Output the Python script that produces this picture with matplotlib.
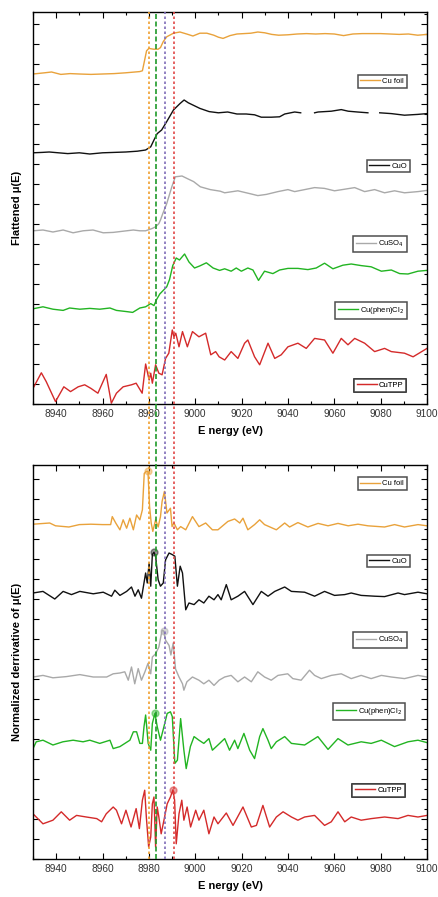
import numpy as np
import matplotlib.pyplot as plt
import matplotlib.transforms as mtransforms
from matplotlib.lines import Line2D
from matplotlib.ticker import MultipleLocator

plt.rcParams['font.family'] = ['Liberation Sans', 'DejaVu Sans']

# ---------------- data ----------------
labels = ['Cu foil', 'CuO', 'CuSO$_4$', 'Cu(phen)Cl$_2$', 'CuTPP']
colors = ['#e9a23b', '#111111', '#a9a9a9', '#22b422', '#d42a2a']

# edge positions marked by the vertical lines (eV)
edge_E = [8980.0, 8983.2, 8987.0, 8990.8]
edge_colors = ['#f0a030', '#1f9a2a', '#7f6cb8', '#e04848']
edge_styles = [(0, (1.5, 1.5)), (0, (3, 1.5)), (0, (1.5, 1.5)), (0, (1.5, 1.5))]

# flattened mu(E)
E_foil = [8930, 8935, 8938, 8942, 8946, 8950, 8955, 8960, 8965, 8970,
          8974, 8976, 8977.2, 8978, 8979, 8980, 8982, 8984, 8985, 8986.2,
          8987.7, 8990.6, 8993.4, 8996.3, 8999, 9002, 9005, 9008, 9010, 9012,
          9015, 9018, 9021, 9024, 9027, 9030, 9033, 9036, 9040, 9044,
          9048, 9052, 9056, 9060, 9064, 9068, 9072, 9076, 9080, 9084,
          9088, 9092, 9096, 9100]
mu_foil = [0.0, 0.03, 0.05, -0.01, 0.01, 0.0, -0.01, 0.0, 0.01, 0.03,
           0.05, 0.06, 0.08, 0.3, 0.58, 0.64, 0.62, 0.62, 0.66, 0.81,
           0.93, 1.02, 1.05, 1.0, 0.95, 1.02, 1.02, 0.97, 0.92, 0.89,
           0.96, 1.0, 1.01, 1.02, 1.05, 1.03, 0.99, 0.97, 0.98, 1.0,
           1.01, 1.0, 1.01, 1.0, 0.96, 1.0, 1.01, 1.01, 1.01, 1.0,
           0.99, 1.0, 0.97, 0.99]

E_cuo = [8930, 8934, 8937, 8941, 8945, 8950, 8954.5, 8960, 8965, 8970,
         8975, 8978.6, 8980.8, 8982.2, 8983.6, 8985.5, 8987.7, 8990.6, 8993.4, 8995.2,
         8997, 9002, 9006, 9010, 9014, 9018, 9022, 9025.6, 9028.5, 9032.8,
         9036.4, 9038.6, 9042.9, 9045.5, 9048, 9051.5, 9053, 9058.7, 9063, 9066,
         9070, 9074.5, 9077, 9079.6, 9084.6, 9090.3, 9096, 9100]
mu_cuo = [0.0, 0.01, 0.02, 0.0, -0.02, 0.0, -0.03, 0.0, 0.01, 0.02,
          0.04, 0.07, 0.15, 0.32, 0.48, 0.57, 0.78, 1.07, 1.23, 1.32,
          1.25, 1.11, 1.03, 1.0, 1.02, 0.97, 0.97, 0.95, 0.89, 0.89,
          0.9, 0.97, 1.02, 1.0, np.nan, 1.0, 1.02, 1.04, 1.08, 1.04,
          1.02, 1.0, np.nan, 1.0, 0.98, 0.94, 0.96, 0.98]

E_so4 = [8930, 8934.3, 8938.6, 8943, 8947.3, 8951.6, 8955.9, 8960.3, 8964.6, 8968.9,
         8973.3, 8976.1, 8978.6, 8981.5, 8982.9, 8984.3, 8985, 8986, 8987.7, 8989.9,
         8991.4, 8994.3, 8996.4, 8999.3, 9002.2, 9006.5, 9010.8, 9012.7, 9018.4, 9024.2,
         9027, 9030.7, 9035.7, 9040, 9042.9, 9047.2, 9051.5, 9055.8, 9060.1, 9064.5,
         9068.8, 9073.1, 9077.4, 9081.7, 9086, 9090.3, 9096.1, 9100]
mu_so4 = [0.0, 0.02, -0.03, 0.02, -0.05, 0.0, 0.02, -0.05, -0.04, -0.01,
          0.02, 0.0, 0.0, 0.06, 0.1, 0.18, 0.27, 0.43, 0.68, 1.1,
          1.35, 1.37, 1.31, 1.23, 1.1, 1.03, 0.99, 0.95, 1.0, 0.92,
          0.88, 0.91, 0.98, 1.03, 0.98, 1.03, 1.08, 1.06, 1.0, 1.04,
          1.08, 0.98, 1.03, 0.95, 1.0, 0.95, 0.98, 1.01]

E_phen = [8930, 8934.3, 8938.6, 8943, 8945.8, 8950.2, 8954.5, 8958.8, 8963.2, 8966,
          8970.4, 8973, 8976.1, 8978.6, 8980.8, 8982.2, 8983.3, 8984.7, 8987.7, 8988.9,
          8990.3, 8991.8, 8993.2, 8995.4, 8997.3, 8999.7, 9001.9, 9004.8, 9007.7, 9010.5,
          9012.7, 9015.5, 9017.7, 9019.9, 9022.7, 9024.9, 9027.3, 9029.9, 9033.5, 9036.4,
          9040, 9044.3, 9048.6, 9052.2, 9055.8, 9059.4, 9063.7, 9067.3, 9071.6, 9075.9,
          9080.3, 9084.6, 9088.2, 9091.8, 9096.1, 9100]
mu_phen = [0.0, 0.05, -0.01, -0.04, 0.02, -0.01, 0.01, -0.01, 0.02, -0.04,
           -0.07, -0.09, 0.02, 0.05, 0.13, 0.08, 0.23, 0.37, 0.55, 0.73,
           1.08, 1.27, 1.22, 1.37, 1.17, 1.02, 1.07, 1.15, 1.02, 0.96,
           1.0, 0.94, 1.02, 0.94, 1.02, 0.97, 0.71, 0.94, 0.88, 0.97,
           1.01, 1.01, 0.98, 1.02, 1.14, 1.0, 1.09, 1.12, 1.08, 1.05,
           0.94, 0.97, 0.88, 0.87, 0.94, 0.96]

E_tpp = [8930, 8933.6, 8935.7, 8939.7, 8943.3, 8946.2, 8949.5, 8952.3, 8955, 8958,
         8961.6, 8963.8, 8966, 8968.9, 8972.5, 8974.5, 8977.1, 8978.6, 8980.1, 8980.8,
         8981.5, 8982.9, 8984.3, 8985.7, 8987.2, 8988.6, 8990.1, 8990.8, 8991.6, 8993,
         8994.5, 8996.6, 8998.8, 9001.6, 9004.5, 9006.7, 9008.8, 9010.3, 9012.7, 9015.5,
         9018.4, 9021.3, 9022.7, 9025.6, 9027.8, 9031.4, 9034.3, 9037.1, 9040, 9044.3,
         9047.9, 9051.5, 9055.8, 9059.4, 9063, 9065.9, 9068.8, 9073.1, 9077.4, 9081.7,
         9084.6, 9090.3, 9094, 9100]
mu_tpp = [-0.01, 0.38, 0.16, -0.34, 0.03, -0.09, 0.03, 0.08, -0.01, -0.13,
          0.34, -0.38, -0.13, 0.03, 0.08, 0.12, -0.13, 0.6, 0.2, 0.37,
          0.12, 0.58, 0.37, 0.33, 0.74, 0.87, 1.45, 1.28, 1.37, 1.03,
          1.41, 1.03, 1.41, 1.28, 1.37, 0.83, 0.91, 0.78, 0.7, 0.91,
          0.74, 1.12, 1.2, 0.78, 0.58, 1.12, 0.74, 0.83, 1.03, 1.12,
          0.99, 1.24, 1.2, 0.87, 1.24, 1.08, 1.24, 1.12, 0.91, 0.99,
          0.91, 0.87, 0.78, 0.99]

# normalized derivative of mu(E)
Ed_foil = [8930, 8937.2, 8939.7, 8945.5, 8950, 8955, 8960, 8963.5, 8964.2, 8965.7,
           8967.5, 8968.9, 8970.4, 8971.8, 8973.3, 8974.7, 8976.1, 8977.2, 8978, 8978.9,
           8979.6, 8980.3, 8981, 8981.7, 8982.9, 8984, 8985, 8985.7, 8986.7, 8987.8,
           8989.3, 8990, 8990.8, 8992.3, 8993.7, 8995.9, 8998.8, 9001.6, 9004.5, 9007.4,
           9009.8, 9014.1, 9017, 9019.2, 9020.6, 9022.7, 9025.6, 9027.8, 9029.9, 9035,
           9038.6, 9040.7, 9044.3, 9048.6, 9053, 9057.3, 9061.6, 9066, 9070.2, 9074.5,
           9081.7, 9086, 9090.3, 9096.1, 9100]
d_foil = [0.0, 0.03, -0.04, -0.07, -0.01, 0.0, -0.01, -0.01, 0.19, 0.03,
          -0.14, 0.11, -0.1, 0.15, -0.14, 0.23, 0.11, 0.36, 1.27, 1.32,
          1.32, 0.44, 0.03, -0.18, 0.11, -0.07, 0.19, 0.57, 0.82, 0.28,
          0.4, -0.06, 0.03, -0.14, -0.06, -0.14, 0.19, -0.06, 0.03, -0.14,
          -0.14, 0.07, 0.13, 0.03, 0.15, -0.14, -0.01, 0.11, -0.01, -0.14,
          0.03, -0.07, 0.04, -0.07, 0.02, -0.04, 0.02, -0.04, 0.0, -0.04,
          -0.07, -0.01, -0.07, -0.01, -0.04]

Ed_cuo = [8930, 8934.3, 8939.4, 8943, 8946.6, 8950.2, 8956, 8960.3, 8963.9, 8965.3,
          8967.5, 8970.4, 8972.5, 8974, 8975.4, 8976.8, 8978.6, 8979.3, 8980.1, 8980.8,
          8981.5, 8982.2, 8982.9, 8984, 8985, 8986.2, 8987.2, 8988.7, 8990.1, 8991.2,
          8992.3, 8993.5, 8994.5, 8995.9, 8997.3, 8999.5, 9001.6, 9003.7, 9005.9, 9008.1,
          9009.8, 9011.2, 9013.4, 9015.5, 9018.4, 9021.3, 9024.9, 9028.5, 9031.4, 9034.3,
          9038.6, 9041.5, 9047.2, 9051.5, 9055.8, 9060.1, 9064.5, 9067.3, 9071.6, 9077.4,
          9081.7, 9087.5, 9090.3, 9096.1, 9100]
d_cuo = [0.0, 0.04, -0.15, 0.04, -0.04, 0.04, -0.02, 0.02, -0.08, 0.07,
         -0.06, 0.04, 0.15, -0.08, 0.08, -0.13, 0.5, 0.25, 0.75, 0.17,
         0.96, 1.02, 0.92, 0.33, 0.17, 0.25, 0.83, 1.0, 0.96, 0.92,
         0.17, 0.67, 0.5, -0.42, -0.25, -0.29, -0.17, -0.25, -0.08, -0.17,
         -0.04, -0.17, 0.21, -0.17, -0.08, 0.04, -0.29, 0.04, -0.08, 0.04,
         0.15, 0.04, 0.02, -0.08, 0.04, -0.06, -0.04, 0.0, -0.06, -0.08,
         -0.09, 0.0, -0.04, 0.02, -0.02]

Ed_so4 = [8930, 8934.3, 8938.6, 8944.4, 8950.2, 8956, 8961.8, 8964.6, 8967.5, 8969.6,
          8971.1, 8972.5, 8973.9, 8975.4, 8976.8, 8978.3, 8979.6, 8980.8, 8981.5, 8982.9,
          8984.3, 8985.7, 8986.4, 8987.2, 8988.7, 8989.5, 8990.5, 8991.5, 8993, 8994.5,
          8995.1, 8996.4, 8998.8, 9001.6, 9003.7, 9005.9, 9008.1, 9010.3, 9012.7, 9015.5,
          9018.4, 9021.3, 9024.2, 9027, 9029.9, 9032.8, 9035.7, 9039.9, 9042.1, 9045.7,
          9049.3, 9051.5, 9054.4, 9058.7, 9063, 9067.3, 9071.6, 9075.9, 9080.3, 9084.6,
          9090.3, 9096.1, 9100]
d_so4 = [0.0, 0.04, -0.02, 0.01, 0.06, 0.0, 0.0, 0.08, 0.1, 0.13,
         -0.08, 0.25, -0.17, 0.21, -0.08, 0.13, 0.34, 0.08, 0.5, 0.58,
         0.75, 1.17, 1.15, 0.92, 0.79, 0.55, 0.85, 0.2, 0.0, -0.17,
         -0.33, -0.12, 0.0, -0.08, -0.17, -0.08, -0.21, -0.08, 0.0, 0.04,
         -0.12, 0.0, -0.12, 0.13, 0.0, -0.08, 0.04, 0.08, -0.04, -0.08,
         0.17, 0.04, -0.04, 0.04, 0.08, -0.04, 0.04, -0.04, 0.04, 0.0,
         -0.04, 0.04, 0.0]

Ed_phen = [8930, 8931.4, 8934.3, 8938.6, 8942.9, 8947.3, 8951.6, 8954.5, 8958.8, 8963.2,
           8964.6, 8967.5, 8971.8, 8973.3, 8974.7, 8976.1, 8977.2, 8977.9, 8978.6, 8979.7,
           8980.8, 8981.5, 8982.6, 8983.6, 8985, 8986.5, 8987.9, 8989.3, 8990.1, 8991.2,
           8992.3, 8993.7, 8995.1, 8996.1, 8997.9, 8999.5, 9001.6, 9003.7, 9005.9, 9007.4,
           9009.8, 9012.7, 9014.8, 9017, 9018.4, 9021, 9023.5, 9025.6, 9027.8, 9029.2,
           9031.4, 9032.8, 9035, 9038.6, 9041.5, 9047.2, 9052.9, 9057.3, 9061.6, 9065.9,
           9071.6, 9075.9, 9080.3, 9086, 9091.8, 9096.1, 9100]
d_phen = [-0.17, 0.0, 0.04, -0.08, 0.0, 0.04, 0.0, 0.04, -0.04, 0.04,
          -0.17, -0.12, 0.04, 0.25, 0.25, -0.04, -0.04, 0.38, 0.67, -0.04,
          -0.21, 0.46, 0.71, 0.38, 0.04, 0.38, 0.71, 0.75, 0.63, -0.54,
          -0.46, 0.58, -0.21, -0.67, -0.12, 0.13, 0.04, -0.04, 0.08, -0.21,
          -0.08, 0.08, -0.21, 0.04, -0.17, 0.21, -0.21, -0.42, 0.13, 0.33,
          0.04, -0.17, 0.0, 0.13, -0.04, -0.08, 0.13, -0.19, 0.08, -0.08,
          0.0, -0.04, 0.04, -0.12, 0.0, 0.04, -0.02]

Ed_tpp = [8930, 8934.3, 8938.6, 8942.2, 8945.8, 8948.8, 8953, 8957.5, 8959.6, 8961.6,
          8964.6, 8966, 8968.2, 8970.1, 8972.3, 8974.5, 8975.9, 8977.2, 8978.2, 8978.9,
          8979.9, 8980.8, 8981.5, 8982.2, 8982.9, 8983.6, 8984.3, 8985.3, 8986.5, 8987.9,
          8989.3, 8990.4, 8991.1, 8991.8, 8993, 8994.2, 8995.1, 8996.5, 8998, 9000.2,
          9001.6, 9003.7, 9005.9, 9008.1, 9009.8, 9013.4, 9016.3, 9020.6, 9024.2, 9026.4,
          9029.2, 9032.1, 9035, 9037.9, 9041.5, 9044.3, 9047.2, 9051.5, 9055.8, 9058.7,
          9061.6, 9064.5, 9067.3, 9071.6, 9076, 9081.7, 9087.5, 9091.8, 9096.1, 9100]
d_tpp = [0.08, -0.17, -0.08, 0.13, -0.08, 0.04, 0.0, -0.04, -0.12, 0.08,
         0.25, 0.17, -0.17, 0.17, -0.25, 0.21, -0.29, 0.42, 0.67, 0.0,
         -0.75, -0.5, 0.33, 0.5, -0.75, 0.25, 0.0, -0.42, -0.08, 0.33,
         0.5, 0.68, 0.42, -0.67, 0.08, 0.42, -0.08, 0.25, -0.25, 0.17,
         -0.08, 0.17, -0.42, 0.0, -0.17, 0.1, -0.21, 0.25, -0.25, -0.21,
         0.29, -0.25, 0.0, 0.13, 0.0, -0.08, 0.0, 0.04, -0.21, -0.12,
         0.13, -0.12, 0.0, -0.08, -0.04, 0.0, -0.04, 0.04, 0.0, 0.04]

# circled peak positions in the derivative panel (eV)
peak_E = [8979.6, 8982.2, 8986.4, 8982.6, 8990.4]

flat_E = [E_foil, E_cuo, E_so4, E_phen, E_tpp]
flat_mu = [mu_foil, mu_cuo, mu_so4, mu_phen, mu_tpp]
der_E = [Ed_foil, Ed_cuo, Ed_so4, Ed_phen, Ed_tpp]
der_mu = [d_foil, d_cuo, d_so4, d_phen, d_tpp]

# vertical stacking of the curves
flat_offsets = [8.25, 6.28, 4.33, 2.38, 0.4]
der_offsets = [8.37, 6.65, 4.55, 2.93, 1.05]

# legend box anchors (right edge, centre height) in axes fraction
flat_leg = [(0.949, 0.823), (0.957, 0.607), (0.949, 0.408), (0.949, 0.2385), (0.947, 0.048)]
der_leg = [(0.949, 0.953), (0.957, 0.756), (0.949, 0.556), (0.943, 0.374), (0.943, 0.174)]

# ---------------- figure ----------------
fig = plt.figure(figsize=(4.38, 8.97), dpi=100)
ax1 = fig.add_axes([33 / 438, 1 - 404 / 897, 394 / 438, 392 / 897])
ax2 = fig.add_axes([33 / 438, 1 - 859 / 897, 394 / 438, 394 / 897])


def style_axes(ax, ylabel):
    ax.set_xlim(8930, 9100)
    ax.xaxis.set_major_locator(MultipleLocator(20))
    ax.xaxis.set_minor_locator(MultipleLocator(10))
    ax.yaxis.set_major_locator(MultipleLocator(0.5))
    ax.yaxis.set_minor_locator(MultipleLocator(0.25))
    ax.tick_params(which='both', direction='in', top=True, right=True,
                   labelleft=False, labelsize=7.3, labelcolor='#333333', width=0.8)
    ax.tick_params(which='major', length=4)
    ax.tick_params(which='minor', length=2.5, left=False)
    ax.set_xlabel('E nergy (eV)', fontsize=8, fontweight='bold', labelpad=5)
    ax.set_ylabel(ylabel, fontsize=8, fontweight='bold')
    ax.yaxis.set_label_coords(-0.028, 0.5)
    for s in ax.spines.values():
        s.set_linewidth(1.0)


def add_boxes(ax, anchors):
    for lab, col, (ax_x, ax_y) in zip(labels, colors, anchors):
        h = [Line2D([], [], color=col, lw=1.0)]
        leg = ax.legend(h, [lab], loc='center right', bbox_to_anchor=(ax_x, ax_y),
                        fontsize=5.5, frameon=True, fancybox=False, handlelength=2.6,
                        handletextpad=0.3, borderpad=0.35, borderaxespad=0.0)
        leg.get_frame().set_edgecolor('#222222')
        leg.get_frame().set_linewidth(1.1)
        ax.add_artist(leg)


for E, mu, off, col in zip(flat_E, flat_mu, flat_offsets, colors):
    ax1.plot(E, np.array(mu) + off, color=col, lw=1.0)
ax1.set_ylim(0, 9.8)
style_axes(ax1, 'Flattened \u03bc(E)')
add_boxes(ax1, flat_leg)

for E, d, off, col, pe in zip(der_E, der_mu, der_offsets, colors, peak_E):
    ax2.plot(E, np.array(d) + off, color=col, lw=1.0)
    ax2.plot([pe], [np.interp(pe, E, d) + off], 'o', ms=5, mfc=col, mec=col,
             alpha=0.45, mew=1.0)
ax2.set_ylim(0, 9.85)
style_axes(ax2, 'Normalized derrivative of \u03bc(E)')
add_boxes(ax2, der_leg)

# vertical edge markers running through both panels
y_top = 1 - 12 / 897
y_bot = 1 - 859 / 897
trans = mtransforms.blended_transform_factory(ax1.transData, fig.transFigure)
for e, c, ls in zip(edge_E, edge_colors, edge_styles):
    fig.add_artist(Line2D([e, e], [y_bot, y_top], transform=trans, color=c,
                          lw=1.2, linestyle=ls, zorder=5))

fig.savefig('out.png', dpi=100, facecolor='white')
